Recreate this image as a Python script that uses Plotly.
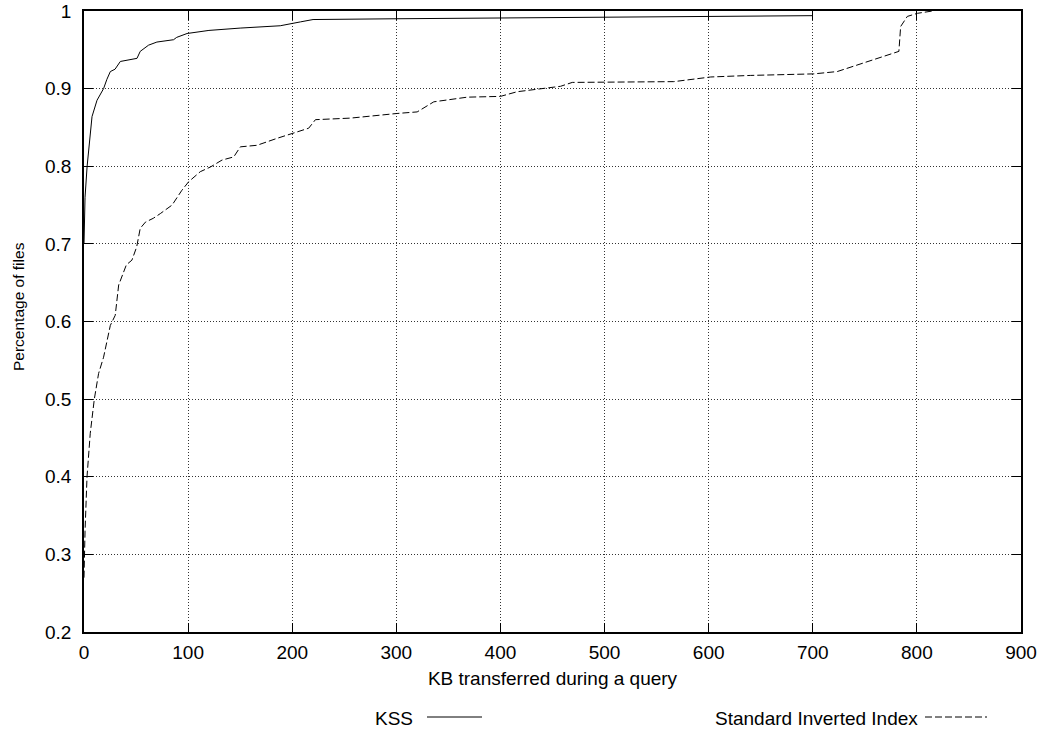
import plotly.graph_objects as go

# KSS series (KB transferred, fraction of files)
kss_x = [0, 1, 3, 7.7, 12.5, 18.8, 22, 25.3, 29.8, 34.9, 50.9, 54, 62, 70, 86, 89, 99,
         120, 150, 188.5, 208, 220, 300, 400, 500, 600, 700]
kss_y = [0.70, 0.76, 0.80, 0.864, 0.885, 0.90, 0.912, 0.922, 0.925, 0.935, 0.939, 0.948, 0.956, 0.960,
         0.963, 0.966, 0.971, 0.975, 0.978, 0.981, 0.986, 0.989, 0.990, 0.991, 0.992, 0.993, 0.994]

# Standard Inverted Index series
sii_x = [0, 1, 2.9, 6, 9.9, 14, 18.8, 25.3, 30, 33.3, 40.7, 46, 50.6, 54, 59, 66.6, 73.3, 84.6,
         94, 100.5, 111.7, 121.4, 132.6, 143.8, 150.2, 166.2, 185.5, 199.9, 215.8, 222.3, 255.9,
         300.7, 320, 336, 368.1, 400, 416, 457.7, 469, 566.5, 602, 640, 701, 723.5, 782.7, 784.4,
         790.8, 800.4, 810, 815]
sii_y = [0.27, 0.33, 0.40, 0.456, 0.50, 0.533, 0.554, 0.595, 0.608, 0.647, 0.673, 0.679, 0.696,
         0.72, 0.728, 0.733, 0.739, 0.75, 0.769, 0.78, 0.793, 0.799, 0.808, 0.812, 0.825, 0.827,
         0.836, 0.842, 0.849, 0.86, 0.862, 0.868, 0.870, 0.883, 0.889, 0.890, 0.896, 0.903, 0.908,
         0.909, 0.915, 0.917, 0.919, 0.922, 0.948, 0.98, 0.993, 0.997, 0.999, 1.0]

x_ticks = [0, 100, 200, 300, 400, 500, 600, 700, 800, 900]
y_ticks = [0.2, 0.3, 0.4, 0.5, 0.6, 0.7, 0.8, 0.9, 1.0]
y_labels = ["0.2", "0.3", "0.4", "0.5", "0.6", "0.7", "0.8", "0.9", "1"]

FONT = "Liberation Sans, Arial, Helvetica, sans-serif"
FS = 19
DASH = "7px,3px"

fig = go.Figure()
fig.add_trace(go.Scatter(x=kss_x, y=kss_y, mode="lines", name="KSS",
                         line=dict(color="black", width=1), showlegend=False))
fig.add_trace(go.Scatter(x=sii_x, y=sii_y, mode="lines", name="Standard Inverted Index",
                         line=dict(color="black", width=1, dash=DASH), showlegend=False))

axis_common = dict(showline=True, linecolor="black", linewidth=1.6, mirror="ticks",
                   ticks="inside", ticklen=9, tickcolor="black", tickwidth=1,
                   showgrid=True, gridcolor="#333333", griddash="1px,2px", gridwidth=1,
                   zeroline=False, automargin=False,
                   tickfont=dict(family=FONT, size=FS, color="black"))

fig.update_xaxes(range=[0, 900], tickvals=x_ticks, ticktext=[str(v) for v in x_ticks],
                 ticklabelstandoff=2,
                 title=dict(text="KB transferred during a query",
                            font=dict(family=FONT, size=FS, color="black"), standoff=10),
                 **axis_common)
fig.update_yaxes(range=[0.2, 1.0], tickvals=y_ticks, ticktext=y_labels,
                 ticklabelstandoff=7, **axis_common)

W, H, L, B = 937, 621, 84, 632
def px(x):
    return (x - L) / W
def py(y):
    return (B - y) / H

# y-axis title (gnuplot places it slightly above the plot centre)
fig.add_annotation(xref="paper", yref="paper", x=px(18), y=py(307), textangle=-90,
                   text="Percentage of files", showarrow=False, xanchor="center",
                   yanchor="middle", font=dict(family=FONT, size=15.5, color="black"))

# gnuplot-style legend: text followed by line sample
fig.add_annotation(xref="paper", yref="paper", x=px(415), y=py(718),
                   text="KSS", showarrow=False, xanchor="right", yanchor="middle",
                   font=dict(family=FONT, size=FS, color="black"))
fig.add_shape(type="line", xref="paper", yref="paper",
              x0=px(427), x1=px(482), y0=py(717), y1=py(717),
              line=dict(color="black", width=1))
fig.add_annotation(xref="paper", yref="paper", x=px(920), y=py(718),
                   text="Standard Inverted Index", showarrow=False, xanchor="right",
                   yanchor="middle", font=dict(family=FONT, size=FS, color="black"))
fig.add_shape(type="line", xref="paper", yref="paper",
              x0=px(925), x1=px(987), y0=py(717), y1=py(717),
              line=dict(color="black", width=1, dash=DASH))

fig.update_layout(width=1042, height=732, plot_bgcolor="white", paper_bgcolor="white",
                  margin=dict(l=84, r=21, t=11, b=100),
                  font=dict(family=FONT, size=FS, color="black"))

fig.write_html("out.html")
